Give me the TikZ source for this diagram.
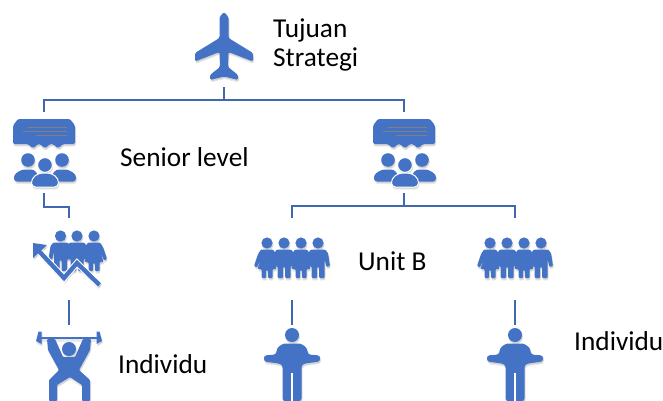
\documentclass[tikz,border=0pt]{standalone}
\usepackage{fontspec}
\setmainfont{Carlito}
\definecolor{iconblue}{HTML}{4472C4}
\definecolor{linkblue}{HTML}{3F68B0}
\tikzset{
  link/.style={draw=linkblue,line width=2.2pt},
  iconbox/.style={inner sep=0pt,minimum width=#1},
  label/.style={inner sep=0pt,anchor=west,align=left,font=\fontsize{27.3}{29}\selectfont},
  icon/.style={color=iconblue},
  shade1/.style={color=black,opacity=.1,shift={(1,1.5)}},
  shade2/.style={color=black,opacity=.08,shift={(.5,2.6)}},
  pics/planeicon/.style={code={
    \fill[rounded corners=1.5pt] (0,-35) -- (4.5,-30) -- (4.5,-9) -- (29,6) -- (29,14.5) -- (4.5,5) -- (4,20) -- (14,28) -- (14,33)
      -- (0,29.5) -- (-14,33) -- (-14,28) -- (-4,20) -- (-4.5,5) -- (-29,14.5) -- (-29,6) -- (-4.5,-9) -- (-4.5,-30) -- cycle;
  }},
  pics/seniorgroup/.style={code={
    \fill[rounded corners=1.5pt] (-26,-33.5) -- (26,-33.5) -- (31,-27) -- (31,-8.5) -- (19,-8.5) -- (14,-4) -- (9,-8.5) -- (6,-8.5)
      -- (1,-4) -- (-4,-8.5) -- (-6,-8.5) -- (-11,-4) -- (-16,-8.5) -- (-31,-8.5) -- (-31,-27) -- cycle;
    \draw[gray,line width=.8pt] (-16,-25) -- (23,-25) (-21,-21) -- (23,-21) (-8,-17) -- (23,-17);
    \foreach \hx in {-16,18}
      \fill (\hx,7.5) circle (6.8);
    \fill[rounded corners=3pt] (-30,29) -- (-30,22) -- (-22,17) -- (-10,17) -- (-6,22) -- (-6,29) -- cycle;
    \fill[rounded corners=3pt] (32,29) -- (32,22) -- (24,17) -- (12,17) -- (8,22) -- (8,29) -- cycle;
    \path[draw=white,fill,line width=1pt,rounded corners=4pt] (-12.5,34.5) -- (-12.5,26) -- (-5,20.5) -- (7,20.5) -- (14.5,26) -- (14.5,34.5) -- cycle;
    \path[draw=white,fill,line width=1pt] (1,12.5) circle (7.4);
  }},
  pics/manfig/.style={code={
    \fill (0,0) circle (5.6);
    \fill[rounded corners=1pt] (-7,6.5) -- (7,6.5) -- (10,10) -- (12,23) -- (8.5,24) -- (6.5,16) -- (6.5,35) -- (1,35) -- (1,24) -- (-1,24)
      -- (-1,35) -- (-6.5,35) -- (-6.5,16) -- (-8.5,24) -- (-12,23) -- (-10,10) -- cycle;
  }},
  pics/womanfig/.style={code={
    \fill (0,0) circle (5.6);
    \fill[rounded corners=1pt] (-6,6.5) -- (6,6.5) -- (9,11) -- (13,23) -- (10,24.5) -- (6,15) -- (9.5,26) -- (5.5,26) -- (5.5,35) -- (.8,35)
      -- (.8,27) -- (-.8,27) -- (-.8,35) -- (-5.5,35) -- (-5.5,26) -- (-9.5,26) -- (-6,15) -- (-10,24.5) -- (-13,23) -- (-9,11) -- cycle;
  }},
  pics/teamrise/.style={code={
    \pic at (-8.5,-23) {manfig};
    \pic at (8,-23) {manfig};
    \pic at (25,-23) {womanfig};
    \draw[white,line width=6.5pt] (30.5,26) -- (8,4) -- (-5,19) -- (-34,-12);
    \draw[line width=4.4pt] (30.5,26) -- (8,4) -- (-5,19) -- (-32,-10);
    \fill (-36,-16) -- (-22,-14) -- (-36,-1) -- cycle;
  }},
  pics/teamfour/.style={code={
    \foreach \fx/\fy in {-25/womanfig,-8/manfig,9/womanfig,26/manfig}
      \pic at (\fx,-16) {\fy};
  }},
  pics/liftericon/.style={code={
    \draw[line width=1.8pt] (-32,-25) -- (32,-25);
    \foreach \sx in {-1,1}
      \fill[shift={(\sx*29,-25)}] (-1.5*\sx,-6.5) -- (1.5*\sx,-6.5) -- (4*\sx,3) -- (-1.5*\sx,6) -- cycle;
    \fill (0,-14) circle (7);
    \fill[rounded corners=1pt] (-22,-24) -- (-14,-24) -- (-6,-6) -- (6,-6) -- (14,-24) -- (22,-24) -- (21,-13) -- (10,7) -- (21,17)
      -- (21,38) -- (13,38) -- (13,22) -- (1,14) -- (-12,22) -- (-12,38) -- (-20,38) -- (-20,17) -- (-10,7) -- (-21,-13) -- cycle;
  }},
  pics/personicon/.style={code={
    \fill (0,-28) circle (7);
    \fill[rounded corners=2.5pt] (-9,-19.5) -- (9,-19.5) -- (15,-15) -- (16,-8.5) -- (28,-7.5) -- (28,-1.5) -- (13,.5) -- (9.5,2) -- (9.5,38)
      -- (-9.5,38) -- (-9.5,2) -- (-13,.5) -- (-28,-1.5) -- (-28,-7.5) -- (-16,-8.5) -- (-15,-15) -- cycle;
    \draw[white,line width=1.3pt] (0,10) -- (0,38);
  }}
}
\begin{document}
\begin{tikzpicture}[x=1pt,y=-1pt]
\useasboundingbox (0,0) rectangle (663,401);
% name/x/y/height/width/icon
\foreach \n/\x/\y/\h/\w/\k in {plane/224/47/80/60/planeicon,seniorA/44/152.5/81/64/seniorgroup,seniorB/404/152.5/81/64/seniorgroup,
  riseA/69/259/82/72/teamrise,unitB/292/259/82/72/teamfour,unitC/515/259/82/72/teamfour,
  lifter/69/363/76/64/liftericon,personB/292/363/76/56/personicon,personC/515/363/76/56/personicon}
{
  \node[iconbox=\w pt,minimum height=\h pt] (\n) at (\x,\y) {};
  \pic[shade1] at (\x,\y) {\k};
  \pic[shade2] at (\x,\y) {\k};
  \pic[icon] at (\x,\y) {\k};
}
% connectors
\draw[link] (plane.south) -- ++(0,13) coordinate (busA) -| (seniorA.north);
\draw[link] (busA) -| (seniorB.north);
\draw[link] (seniorA.south) -- ++(0,14) -| (riseA.north);
\draw[link] (seniorB.south) -- ++(0,13) coordinate (busB) -| (unitB.north);
\draw[link] (busB) -| (unitC.north);
\foreach \a/\b in {riseA/lifter,unitB/personB,unitC/personC}
\draw[link] (\a.south) -- (\b.north);
% text
\node[label] (goal) at (273,45) {Tujuan\\Strategi};
\node[label] (senior) at (120,157) {Senior level};
\node[label] (unit) at (358,261) {Unit B};
\node[label] (indivA) at (118,364) {Individu};
\node[label] (indivB) at (574,341) {Individu};
\end{tikzpicture}
\end{document}
